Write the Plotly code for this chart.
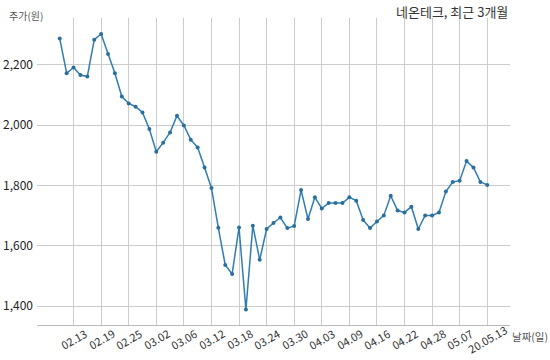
import plotly.graph_objects as go

dates = ["02.11", "02.12", "02.13", "02.14", "02.17", "02.18", "02.19", "02.20", "02.21", "02.24",
         "02.25", "02.26", "02.27", "02.28", "03.02", "03.03", "03.04", "03.05", "03.06", "03.09",
         "03.10", "03.11", "03.12", "03.13", "03.16", "03.17", "03.18", "03.19", "03.20", "03.23",
         "03.24", "03.25", "03.26", "03.27", "03.30", "03.31", "04.01", "04.02", "04.03", "04.06",
         "04.07", "04.08", "04.09", "04.10", "04.13", "04.14", "04.16", "04.17", "04.20", "04.21",
         "04.22", "04.23", "04.24", "04.27", "04.28", "04.29", "05.04", "05.06", "05.07", "05.08",
         "05.11", "05.12", "05.13"]
prices = [2287, 2172, 2191, 2166, 2161, 2283, 2302, 2236, 2172, 2095,
          2072, 2061, 2042, 1987, 1912, 1942, 1976, 2031, 1999, 1952,
          1926, 1860, 1792, 1660, 1537, 1507, 1661, 1389, 1667, 1554,
          1656, 1676, 1694, 1659, 1666, 1785, 1689, 1761, 1724, 1742,
          1742, 1742, 1761, 1750, 1686, 1659, 1681, 1701, 1766, 1717,
          1711, 1730, 1656, 1701, 1701, 1711, 1780, 1812, 1816, 1881,
          1860, 1812, 1802]
tick_dates = ["02.13", "02.19", "02.25", "03.02", "03.06", "03.12", "03.18", "03.24",
              "03.30", "04.03", "04.09", "04.16", "04.22", "04.28", "05.07", "05.13"]
tick_text = ["02.13", "02.19", "02.25", "03.02", "03.06", "03.12", "03.18", "03.24",
             "03.30", "04.03", "04.09", "04.16", "04.22", "04.28", "05.07", "20.05.13"]
y_ticks = [1400, 1600, 1800, 2000, 2200]
y_text = ["1,400", "1,600", "1,800", "2,000", "2,200"]

FONT = "Noto Sans CJK KR"
tick_idx = [dates.index(d) for d in tick_dates]

fig = go.Figure(go.Scatter(
    x=dates, y=prices, mode="lines+markers",
    line=dict(color="#2f7db3", width=1.5),
    marker=dict(color="#2a6e9c", size=4),
    hoverinfo="skip",
))

# x tick labels, rotated and centred on their grid lines (category index positions)
annotations = [
    dict(text=t, x=i, xref="x", y=0, yref="paper",
         xanchor="center", yanchor="middle",
         yshift=-14, textangle=-30, showarrow=False,
         font=dict(family=FONT, size=11, color="#333"))
    for i, t in zip(tick_idx, tick_text)
]
annotations += [
    dict(text="네온테크, 최근 3개월", xref="paper", yref="paper", x=1.0, y=1.0,
         xanchor="right", yanchor="middle", yshift=7, showarrow=False,
         font=dict(family=FONT, size=13, color="#333")),
    dict(text="주가(원)", xref="paper", yref="paper", x=0, y=1.0,
         xanchor="left", yanchor="middle", xshift=-30, yshift=3, showarrow=False,
         font=dict(family=FONT, size=10, color="#555")),
    dict(text="날짜(일)", xref="paper", yref="paper", x=1.0, y=0,
         xanchor="left", yanchor="middle", xshift=0, yshift=-11, showarrow=False,
         font=dict(family=FONT, size=10.5, color="#555")),
]

fig.update_layout(
    width=550, height=360,
    margin=dict(l=37, r=40, t=18, b=35),
    paper_bgcolor="white", plot_bgcolor="white",
    showlegend=False,
    font=dict(family=FONT, color="#222"),
    xaxis=dict(
        type="category", range=[-3.3, 65.3], automargin=False,
        tickmode="array", tickvals=tick_idx, showticklabels=False,
        showgrid=True, gridcolor="#cccccc", gridwidth=1,
        showline=True, linecolor="#bbbbbb", linewidth=1,
        ticks="", zeroline=False,
    ),
    yaxis=dict(
        range=[1338, 2355], automargin=False,
        tickmode="array", tickvals=y_ticks, ticktext=y_text,
        tickfont=dict(size=12, color="#222"),
        showgrid=True, gridcolor="#cccccc", gridwidth=1,
        showline=False, ticks="", zeroline=False,
        ticklabelstandoff=3,
    ),
    annotations=annotations,
)

fig.write_html("out.html")
